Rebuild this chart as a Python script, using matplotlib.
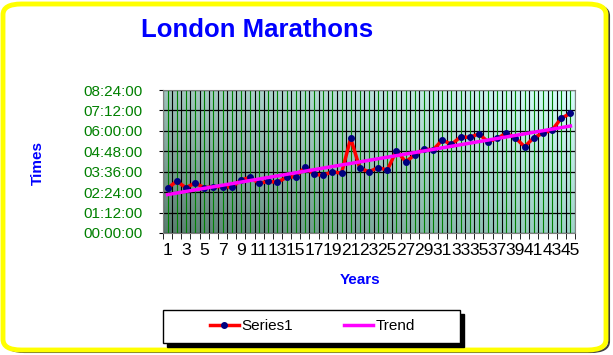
import numpy as np
import matplotlib
matplotlib.use("Agg")
import matplotlib.pyplot as plt
from matplotlib.patches import FancyBboxPatch, Rectangle
from matplotlib.ticker import FuncFormatter, MultipleLocator

plt.rcParams["font.family"] = ["Liberation Sans", "DejaVu Sans"]

# race number 1..45, winning-ish times in hours
years = np.arange(1, 46)
times = [2.63, 3.04, 2.66, 2.94, 2.66, 2.72, 2.73, 2.69, 3.11, 3.27,
         2.92, 3.03, 2.98, 3.27, 3.31, 3.86, 3.45, 3.39, 3.60, 3.51,
         5.56, 3.80, 3.60, 3.84, 3.70, 4.84, 4.19, 4.58, 4.94, 4.88,
         5.46, 5.21, 5.64, 5.62, 5.82, 5.36, 5.56, 5.86, 5.58, 5.07,
         5.60, 5.86, 6.05, 6.74, 7.03]
title = "London Marathons"
series_name = "Series1"
trend_name = "Trend"

times = np.array(times)
slope, icpt = np.polyfit(years, times, 1)
trend = slope * years + icpt


def hms(v, pos=None):
    secs = int(round(v * 3600))
    return f"{secs // 3600:02d}:{(secs % 3600) // 60:02d}:{secs % 60:02d}"


W, H = 613, 355
fig = plt.figure(figsize=(W / 100, H / 100), dpi=100)
fig.patch.set_facecolor("white")

# yellow rounded border with dark shadow
shadow = FancyBboxPatch((6 / W, 3 / H), (W - 10) / W, (H - 8) / H,
                        boxstyle="round,pad=0,rounding_size=0.03",
                        transform=fig.transFigure, fc="none", ec="#404040",
                        lw=1.5, zorder=-3)
fig.patches.append(shadow)
border = FancyBboxPatch((3 / W, 5 / H), (W - 10) / W, (H - 9) / H,
                        boxstyle="round,pad=0,rounding_size=0.03",
                        transform=fig.transFigure, fc="white", ec="#ffff00",
                        lw=3.5, zorder=-2)
fig.patches.append(border)

ax = fig.add_axes([163 / W, 1 - 233 / H, 412 / W, 143 / H])
ax.set_zorder(2)

# gradient plot area
tl, bl = np.array([160, 196, 188]), np.array([88, 124, 110])
tr, br = np.array([215, 255, 252]), np.array([160, 212, 200])
u = np.linspace(0, 1, 200)[None, :, None]
v = np.linspace(0, 1, 100)[:, None, None]
img = (tl * (1 - u) * (1 - v) + tr * u * (1 - v) + bl * (1 - u) * v + br * u * v) / 255
ax.imshow(img, extent=(0.5, 45.5, 0, 8.4), aspect="auto", zorder=0)

ax.set_xlim(0.5, 45.5)
ax.set_ylim(0, 8.4)

# grid lines
for x in years:
    ax.axvline(x, color="#008000", lw=0.8, zorder=1)
for x in np.arange(0.5, 46, 1):
    ax.axvline(x, color="black", lw=0.8, zorder=1)
ax.yaxis.set_major_locator(MultipleLocator(1.2))
ax.grid(axis="y", color="black", lw=0.9, zorder=1)
ax.set_axisbelow(True)

ax.plot(years, times, color="red", lw=2.5, marker="o", ms=4,
        mfc="#000080", mec="#000080", zorder=3, label=series_name)
ax.plot(years, trend, color="#ff00ff", lw=2.5, zorder=4, label=trend_name)

ax.yaxis.set_major_formatter(FuncFormatter(hms))
ax.tick_params(axis="y", labelsize=11, labelcolor="#008000", length=3,
               color="black", pad=12)
ax.set_xticks(years[::2])
ax.set_xticks(np.arange(0.5, 46, 1), minor=True)
ax.tick_params(axis="x", which="major", length=0, labelsize=12.5, pad=7)
ax.tick_params(axis="x", which="minor", length=4, color="black")
for s in ax.spines.values():
    s.set_color("#808080")
    s.set_linewidth(0.8)

fig.text(257 / W, 1 - 30 / H, title, color="#0000ff", fontsize=18.5,
         fontweight="bold", ha="center", va="center")
fig.text(38 / W, 1 - 163 / H, "Times", color="#0000ff", fontsize=11,
         fontweight="bold", ha="center", va="center", rotation=90)
fig.text(360 / W, 1 - 280 / H, "Years", color="#0000ff", fontsize=11,
         fontweight="bold", ha="center", va="center")

# legend box with black drop shadow
bx, by, bw, bh = 163 / W, 1 - 343 / H, 297 / W, 33 / H
fig.patches.append(Rectangle((bx + 4 / W, by - 4 / H), bw, bh, transform=fig.transFigure,
                             fc="black", ec="black", zorder=3))
fig.patches.append(Rectangle((bx, by), bw, bh, transform=fig.transFigure,
                             fc="white", ec="black", lw=1, zorder=4))
leg = fig.legend(loc="center", bbox_to_anchor=(bx + bw / 2 + 1 / W, by + bh / 2),
                 ncol=2, fontsize=11, frameon=False, handlelength=1.9,
                 handletextpad=0.2, columnspacing=3.3, borderaxespad=0)
leg.set_zorder(5)

fig.savefig("out.png", dpi=100)
